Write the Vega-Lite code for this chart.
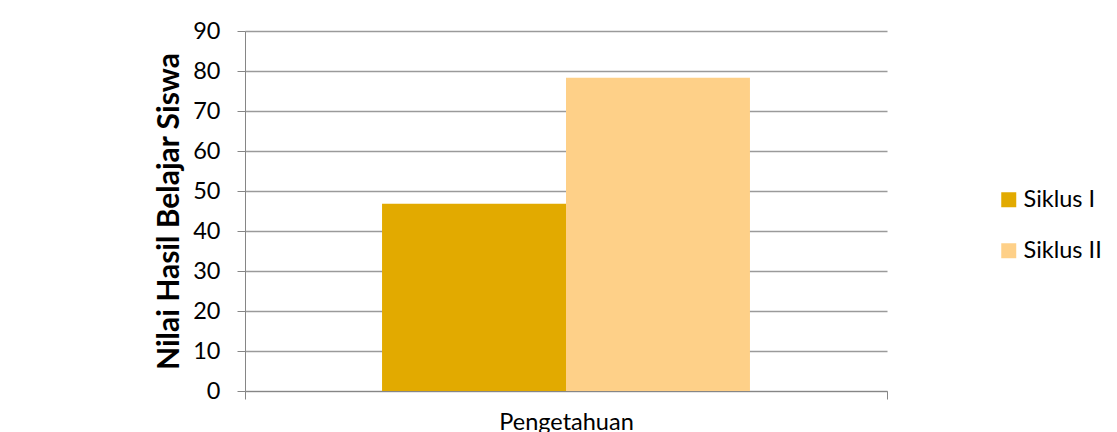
{
  "$schema": "https://vega.github.io/schema/vega-lite/v6.json",
  "autosize": "none",
  "width": 642,
  "height": 360,
  "padding": {"left": 245, "top": 31, "right": 230, "bottom": 41},
  "background": "white",
  "data": {
    "values": [
      {"aspek": "Pengetahuan", "siklus": "Siklus I", "nilai": 46.8},
      {"aspek": "Pengetahuan", "siklus": "Siklus II", "nilai": 78.3}
    ]
  },
  "mark": {"type": "bar"},
  "encoding": {
    "x": {
      "field": "aspek",
      "type": "nominal",
      "scale": {"paddingInner": 0, "paddingOuter": 0},
      "axis": {
        "title": null,
        "labelAngle": 0,
        "labelFont": "Lato",
        "labelFontSize": 23.5,
        "labelColor": "#000000",
        "labelPadding": 11,
        "tickBand": "extent",
        "tickSize": 8,
        "tickColor": "#868686",
        "domainColor": "#868686",
        "grid": false
      }
    },
    "xOffset": {
      "field": "siklus",
      "type": "nominal",
      "scale": {"paddingInner": 0, "paddingOuter": 0.745}
    },
    "y": {
      "field": "nilai",
      "type": "quantitative",
      "scale": {"domain": [0, 90], "nice": false},
      "axis": {
        "title": "Nilai Hasil Belajar Siswa",
        "titleFont": "Lato",
        "titleFontSize": 30,
        "titleFontWeight": "bold",
        "titleColor": "#000000",
        "titlePadding": 8,
        "values": [0, 10, 20, 30, 40, 50, 60, 70, 80, 90],
        "labelFont": "Lato",
        "labelFontSize": 23.5,
        "labelColor": "#000000",
        "labelPadding": 17,
        "tickSize": 8,
        "tickColor": "#868686",
        "domainColor": "#868686",
        "gridColor": "#9a9a9a",
        "gridWidth": 1.3
      }
    },
    "color": {
      "field": "siklus",
      "type": "nominal",
      "scale": {"domain": ["Siklus I", "Siklus II"], "range": ["#E2AA00", "#FED088"]},
      "legend": {
        "title": null,
        "orient": "none",
        "legendX": 752,
        "legendY": 157,
        "symbolType": "square",
        "symbolSize": 225,
        "symbolStrokeWidth": 0,
        "labelFont": "Lato",
        "labelFontSize": 23.5,
        "labelColor": "#000000",
        "labelOffset": 3,
        "rowPadding": 26
      }
    }
  },
  "config": {
    "view": {"stroke": null},
    "axis": {"domainWidth": 1, "tickWidth": 1}
  }
}
